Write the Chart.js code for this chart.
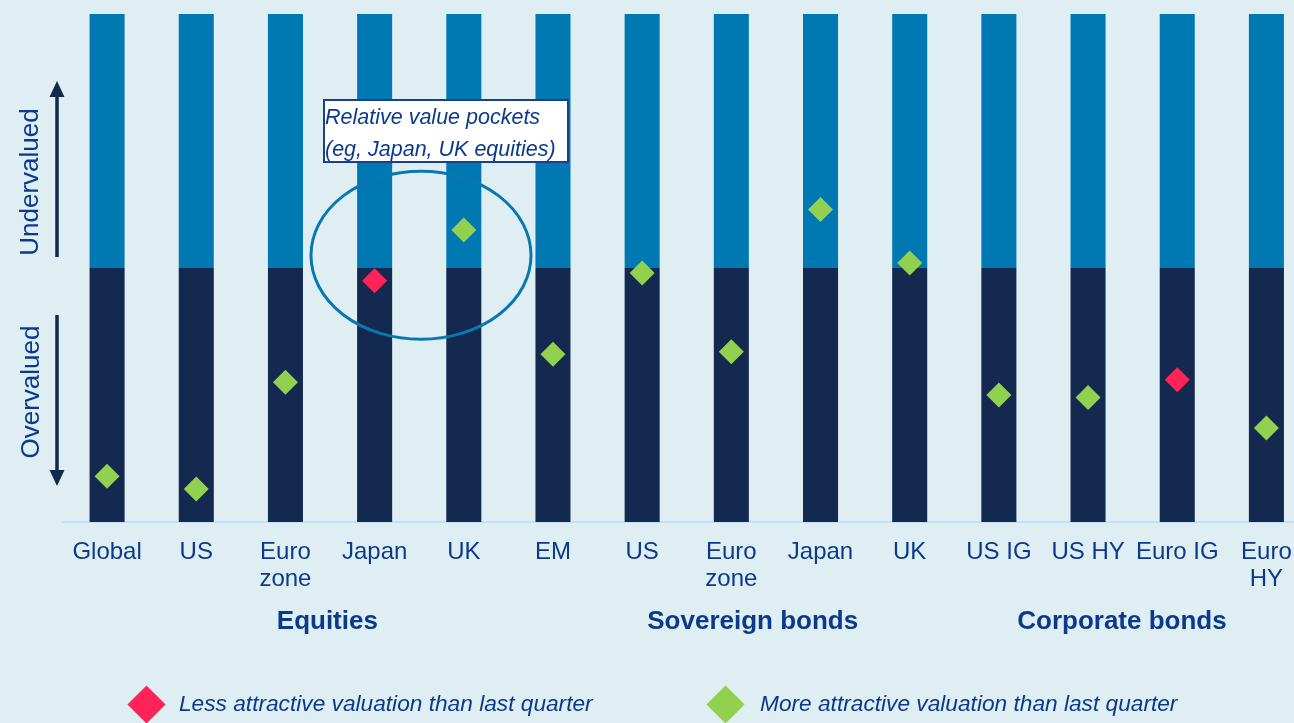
<!DOCTYPE html>
<html>
<head>
<meta charset="utf-8">
<script src="https://cdn.jsdelivr.net/npm/chart.js@4.4.1/dist/chart.umd.min.js"></script>
<style>
html, body { margin: 0; padding: 0; background: #dfeef3; overflow: hidden; }
#wrap { position: relative; width: 1294px; height: 723px; overflow: hidden; background: #dfeef3; }
#chart { position: absolute; left: 0; top: 0; }
.leg { position: absolute; top: 690px; font: italic 22.7px "Liberation Sans", Arial, sans-serif; color: #0b3a8c; white-space: nowrap; line-height: 26px; }
.dia { position: absolute; width: 27px; height: 27px; transform: rotate(45deg); }
</style>
</head>
<body>
<div id="wrap">
  <canvas id="chart" width="1311" height="723"></canvas>
  <div class="dia" style="left:133px; top:691px; background:#ff2457;"></div>
  <div class="leg" style="left:179px;">Less attractive valuation than last quarter</div>
  <div class="dia" style="left:712px; top:691px; background:#92d050;"></div>
  <div class="leg" style="left:760px;">More attractive valuation than last quarter</div>
</div>
<script>
// categories and values
const categories = ['Global', 'US', ['Euro', 'zone'], 'Japan', 'UK', 'EM',
                    'US', ['Euro', 'zone'], 'Japan', 'UK',
                    'US IG', 'US HY', 'Euro IG', ['Euro', 'HY']];
const overvaluedBand = [1, 1, 1, 1, 1, 1, 1, 1, 1, 1, 1, 1, 1, 1];
const undervaluedBand = [1, 1, 1, 1, 1, 1, 1, 1, 1, 1, 1, 1, 1, 1];
const lessAttractive = [null, null, null, 0.95, null, null, null, null, null, null, null, null, 0.56, null];
const moreAttractive = [0.18, 0.13, 0.55, null, 1.15, 0.66, 0.98, 0.67, 1.23, 1.02, 0.50, 0.49, null, 0.37];
const groupLabels = ['Equities', 'Sovereign bonds', 'Corporate bonds'];
const groupCenters = [2.47, 7.24, 11.38]; // in category units

const navy = '#13294f';
const blue = '#0078b2';
const textBlue = '#0b3a8c';

const extras = {
    id: 'extras',
    afterDraw(chart) {
        const ctx = chart.ctx;
        const x = chart.scales.x;
        const y = chart.scales.y;

        // group labels under the ticks
        ctx.save();
        ctx.fillStyle = textBlue;
        ctx.font = 'bold 26px "Liberation Sans", Arial, sans-serif';
        ctx.textAlign = 'center';
        ctx.textBaseline = 'middle';
        groupLabels.forEach((g, i) => {
            ctx.fillText(g, x.getPixelForValue(groupCenters[i]), 622);
        });
        ctx.restore();

        // side arrows
        ctx.save();
        ctx.strokeStyle = navy;
        ctx.fillStyle = navy;
        ctx.lineWidth = 3.5;
        ctx.beginPath();
        ctx.moveTo(57, 257); ctx.lineTo(57, 95);
        ctx.moveTo(57, 315); ctx.lineTo(57, 472);
        ctx.stroke();
        ctx.beginPath();
        ctx.moveTo(57, 81); ctx.lineTo(64.5, 97); ctx.lineTo(49.5, 97); ctx.closePath();
        ctx.moveTo(57, 486); ctx.lineTo(64.5, 470); ctx.lineTo(49.5, 470); ctx.closePath();
        ctx.fill();
        ctx.restore();

        // side labels
        ctx.save();
        ctx.fillStyle = textBlue;
        ctx.font = '26px "Liberation Sans", Arial, sans-serif';
        ctx.textAlign = 'center';
        ctx.textBaseline = 'middle';
        ctx.translate(31, 182);
        ctx.rotate(-Math.PI / 2);
        ctx.fillText('Undervalued', 0, 0);
        ctx.restore();
        ctx.save();
        ctx.fillStyle = textBlue;
        ctx.font = '26px "Liberation Sans", Arial, sans-serif';
        ctx.textAlign = 'center';
        ctx.textBaseline = 'middle';
        ctx.translate(32, 392);
        ctx.rotate(-Math.PI / 2);
        ctx.fillText('Overvalued', 0, 0);
        ctx.restore();

        // ellipse round Japan / UK equities
        ctx.save();
        ctx.strokeStyle = '#0a78b0';
        ctx.lineWidth = 3;
        ctx.beginPath();
        ctx.ellipse(x.getPixelForValue(3.52), y.getPixelForValue(1.05), 110, 84, 0, 0, Math.PI * 2);
        ctx.stroke();
        ctx.restore();

        // callout box
        ctx.save();
        ctx.fillStyle = '#ffffff';
        ctx.fillRect(324, 100, 244, 62);
        ctx.strokeStyle = '#1b3f8f';
        ctx.lineWidth = 2;
        ctx.strokeRect(324, 100, 244, 62);
        ctx.fillStyle = textBlue;
        ctx.font = 'italic 21.5px "Liberation Sans", Arial, sans-serif';
        ctx.textAlign = 'left';
        ctx.textBaseline = 'middle';
        ctx.fillText('Relative value pockets', 325, 118);
        ctx.fillText('(eg, Japan, UK equities)', 325, 150);
        ctx.restore();
    }
};

new Chart(document.getElementById('chart'), {
    type: 'bar',
    data: {
        labels: categories,
        datasets: [
            {
                label: 'Overvalued',
                data: overvaluedBand,
                backgroundColor: navy,
                barPercentage: 0.393,
                categoryPercentage: 1,
                order: 2
            },
            {
                label: 'Undervalued',
                data: undervaluedBand,
                backgroundColor: blue,
                barPercentage: 0.393,
                categoryPercentage: 1,
                order: 2
            },
            {
                type: 'line',
                label: 'Less attractive valuation than last quarter',
                data: lessAttractive,
                yAxisID: 'y2',
                showLine: false,
                pointStyle: 'rectRot',
                pointRadius: 12.5,
                pointHoverRadius: 12.5,
                pointBorderWidth: 0,
                pointBackgroundColor: '#ff2457',
                borderColor: '#ff2457',
                order: 1
            },
            {
                type: 'line',
                label: 'More attractive valuation than last quarter',
                data: moreAttractive,
                yAxisID: 'y2',
                showLine: false,
                pointStyle: 'rectRot',
                pointRadius: 12.5,
                pointHoverRadius: 12.5,
                pointBorderWidth: 0,
                pointBackgroundColor: '#92d050',
                borderColor: '#92d050',
                order: 1
            }
        ]
    },
    options: {
        responsive: false,
        animation: false,
        layout: { autoPadding: false, padding: { left: 62.5, top: 14, right: 0, bottom: 0 } },
        plugins: {
            legend: { display: false },
            tooltip: { enabled: false }
        },
        scales: {
            x: {
                stacked: true,
                grid: { display: false, drawTicks: false },
                border: { display: true, color: '#c4e0f6', width: 2 },
                ticks: {
                    color: textBlue,
                    padding: 17,
                    maxRotation: 0,
                    autoSkip: false,
                    font: { family: '"Liberation Sans", Arial, sans-serif', size: 24, lineHeight: 1.13 }
                },
                afterFit(scale) { scale.height = 201; }
            },
            y: {
                stacked: true,
                display: false,
                min: 0,
                max: 2
            },
            y2: {
                display: false,
                min: 0,
                max: 2
            }
        }
    },
    plugins: [extras]
});
</script>
</body>
</html>
